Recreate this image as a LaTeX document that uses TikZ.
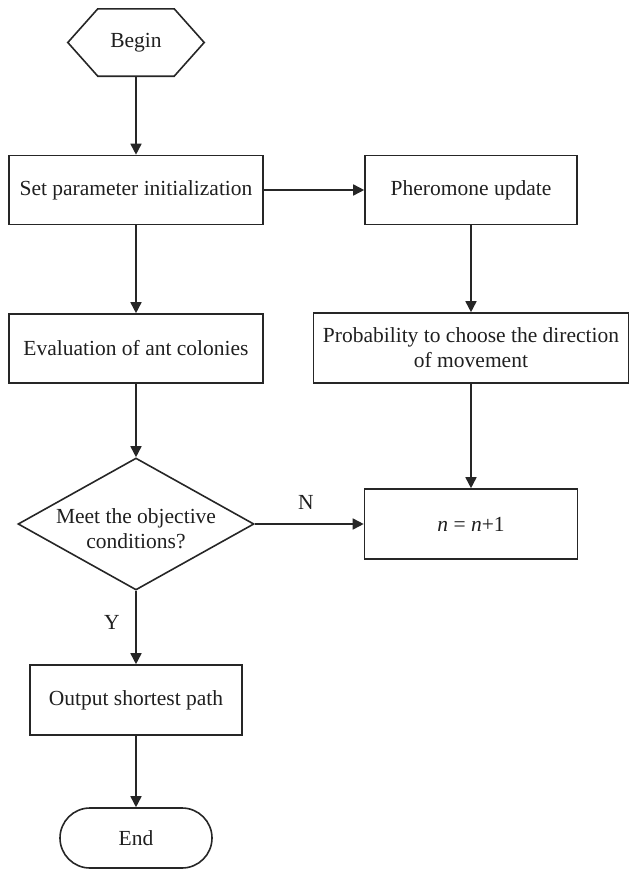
\documentclass[tikz,border=0pt]{standalone}
\usepackage{fontspec}
\setmainfont{Liberation Serif}
\usetikzlibrary{arrows.meta,shapes.geometric,shapes.misc}
\tikzset{
  txt/.style={font=\fontsize{21.5}{25}\selectfont, text=black!88},
  box/.style={draw=black!85, line width=1.6pt, rectangle, align=center, inner sep=0pt, txt},
  arr/.style={draw=black!85, line width=1.6pt, -{Triangle[length=11pt,width=11pt]}},
  lbl/.style={txt, inner sep=0pt, align=center},
}
\begin{document}
\begin{tikzpicture}[x=1pt,y=-1pt]
\useasboundingbox (0,0) rectangle (630,870);
% Begin hexagon
\node[txt, minimum width=136pt, minimum height=67pt, inner sep=0pt] (begin) at (136,42.5) {Begin};
\draw[draw=black!85, line width=1.6pt] (begin.west) -- ([xshift=30pt]begin.north west) -- ([xshift=-30pt]begin.north east)
  -- (begin.east) -- ([xshift=-30pt]begin.south east) -- ([xshift=30pt]begin.south west) -- cycle;
\node[box, minimum width=254pt, minimum height=69pt] (set) at (136,190) {Set parameter initialization};
\node[box, minimum width=212pt, minimum height=69pt] (pher) at (471,190) {Pheromone update};
\node[box, minimum width=254pt, minimum height=69pt] (eval) at (136,348.5) {Evaluation of ant colonies};
\node[box, minimum width=315pt, minimum height=70pt] (prob) at (471,348) {Probability to choose the direction\\of movement};
\node[box, shape=diamond, aspect=1.79, minimum width=236pt, minimum height=132pt] (dec) at (136,524) {};
\node[lbl] (dectext) at (136,529) {Meet the objective\\conditions?};
\node[box, minimum width=213pt, minimum height=70pt] (inc) at (471,524) {\textit{n} = \textit{n}+1};
\node[box, minimum width=212pt, minimum height=70pt] (out) at (136,700) {Output shortest path};
\node[box, shape=rounded rectangle, minimum width=152pt, minimum height=60pt] (end) at (136,838) {End};
\node[lbl] (nlab) at (306,502) {N};
\node[lbl] (ylab) at (112,622) {Y};
\draw[arr] (begin.south) -- (set.north);
\draw[arr] (set.east) -- (pher.west);
\draw[arr] (set.south) -- (eval.north);
\draw[arr] (pher.south) -- (prob.north);
\draw[arr] (eval.south) -- (dec.north);
\draw[arr] (prob.south) -- (inc.north);
\draw[arr] (dec.east) -- (inc.west);
\draw[arr] (dec.south) -- (out.north);
\draw[arr] (out.south) -- (end.north);
\end{tikzpicture}
\end{document}
